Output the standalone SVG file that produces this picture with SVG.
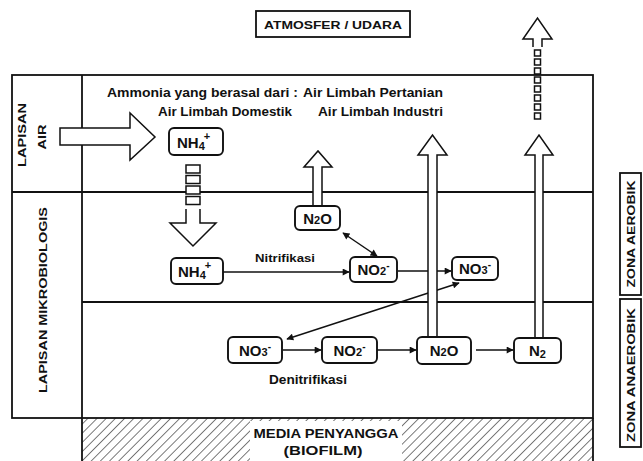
<svg xmlns="http://www.w3.org/2000/svg" width="643" height="461" viewBox="0 0 643 461">
  <defs>
    <style>
      text { font-family: "Liberation Sans", Arial, sans-serif; font-weight: bold; fill: #111; }
      .frame { fill: none; stroke: #111; stroke-width: 1.8; }
      .box { fill: #fff; stroke: #111; stroke-width: 1.9; }
      .hollow { fill: #fff; stroke: #111; stroke-width: 1.5; stroke-linejoin: miter; }
      .link { fill: none; stroke: #111; stroke-width: 1.4; }
      .lbl { font-size: 12.5px; }
      .chem { font-size: 15px; }
      .small { font-size: 10.5px; }
    </style>
    <marker id="ah" viewBox="0 0 10 10" refX="9" refY="5" markerWidth="8" markerHeight="7" markerUnits="userSpaceOnUse" orient="auto-start-reverse">
      <path d="M0,0 L10,5 L0,10 Z" fill="#111"/>
    </marker>
    <pattern id="hatch" patternUnits="userSpaceOnUse" width="6.5" height="6.5" patternTransform="rotate(45)">
      <line x1="0" y1="0" x2="0" y2="6.5" stroke="#222" stroke-width="1.2"/>
    </pattern>
  </defs>

  <rect width="643" height="461" fill="#fff"/>

  <!-- atmosphere label -->
  <g id="atmosfer">
    <rect x="256" y="11" width="154" height="26" class="frame"/>
    <text x="333" y="29" text-anchor="middle" font-size="11.5" textLength="138" lengthAdjust="spacingAndGlyphs">ATMOSFER / UDARA</text>
  </g>

  <!-- supporting medium (biofilm) -->
  <g id="media">
    <rect x="82" y="418" width="511" height="45" fill="url(#hatch)"/>
    <rect x="250" y="421" width="152" height="40" fill="#fff"/>
    <text x="326" y="438" text-anchor="middle" class="lbl" textLength="145" lengthAdjust="spacingAndGlyphs">MEDIA PENYANGGA</text>
    <text x="323" y="455" text-anchor="middle" class="lbl" textLength="79" lengthAdjust="spacingAndGlyphs">(BIOFILM)</text>
  </g>

  <!-- layer frame -->
  <g id="frame">
    <rect x="12" y="75" width="581" height="343" class="frame"/>
    <line x1="82" y1="75" x2="82" y2="461" class="frame"/>
    <line x1="593" y1="418" x2="593" y2="461" class="frame"/>
    <line x1="12" y1="192" x2="593" y2="192" class="frame"/>
    <line x1="82" y1="302" x2="593" y2="302" class="frame"/>
  </g>

  <!-- layer labels -->
  <g id="lapisan-air">
    <text transform="translate(26,135) rotate(-90)" text-anchor="middle" font-size="11.5" textLength="64" lengthAdjust="spacingAndGlyphs">LAPISAN</text>
    <text transform="translate(46,137) rotate(-90)" text-anchor="middle" font-size="11.5" textLength="25" lengthAdjust="spacingAndGlyphs">AIR</text>
  </g>
  <g id="lapisan-mikrobiologis">
    <text transform="translate(47,300) rotate(-90)" text-anchor="middle" font-size="11.5" textLength="186" lengthAdjust="spacingAndGlyphs">LAPISAN MIKROBIOLOGIS</text>
  </g>
  <g id="zona-aerobik">
    <rect x="620" y="173" width="21" height="122" class="frame" stroke-width="1.3"/>
    <text transform="translate(634.5,234) rotate(-90)" text-anchor="middle" class="small" textLength="107" lengthAdjust="spacingAndGlyphs">ZONA AEROBIK</text>
  </g>
  <g id="zona-anaerobik">
    <rect x="620" y="299" width="21" height="148" class="frame" stroke-width="1.3"/>
    <text transform="translate(634.5,375) rotate(-90)" text-anchor="middle" class="small" textLength="134" lengthAdjust="spacingAndGlyphs">ZONA ANAEROBIK</text>
  </g>

  <!-- ammonia sources -->
  <g id="sumber">
    <text x="107" y="97" class="lbl" textLength="191" lengthAdjust="spacingAndGlyphs">Ammonia yang berasal dari :</text>
    <text x="303" y="97" class="lbl" textLength="140" lengthAdjust="spacingAndGlyphs">Air Limbah Pertanian</text>
    <text x="158" y="116" class="lbl" textLength="134" lengthAdjust="spacingAndGlyphs">Air Limbah Domestik</text>
    <text x="318" y="116" class="lbl" textLength="125" lengthAdjust="spacingAndGlyphs">Air Limbah Industri</text>
  </g>

  <!-- connectors -->
  <g id="connectors">
    <!-- inflow into the water layer -->
    <path class="hollow" d="M60,128 L130,128 L130,113 L155,137 L130,160 L130,145 L60,145 Z"/>
    <!-- settling of NH4+ into the microbial layer -->
    <g class="hollow">
      <rect x="186" y="165" width="14" height="8"/>
      <rect x="186" y="175.5" width="14" height="8"/>
      <rect x="186" y="186" width="14" height="8"/>
      <rect x="186" y="196.5" width="14" height="8"/>
    </g>
    <path class="hollow" d="M186,209 L186,223 L170,223 L193,246 L216,223 L200,223 L200,209"/>

    <!-- nitrification chain -->
    <line x1="223" y1="272" x2="349" y2="272" class="link" marker-end="url(#ah)"/>
    <line x1="398" y1="271" x2="451" y2="271" class="link" marker-end="url(#ah)"/>
    <line x1="343" y1="233" x2="377" y2="256" class="link" marker-start="url(#ah)" marker-end="url(#ah)"/>
    <line x1="459" y1="283" x2="287" y2="339" class="link" marker-start="url(#ah)" marker-end="url(#ah)"/>

    <!-- denitrification chain -->
    <line x1="283" y1="350" x2="321" y2="350" class="link" marker-end="url(#ah)"/>
    <line x1="377" y1="350" x2="416" y2="350" class="link" marker-end="url(#ah)"/>
    <line x1="476" y1="350" x2="513" y2="350" class="link" marker-end="url(#ah)"/>

    <!-- gas release -->
    <path class="hollow" d="M313,206 L313,167 L304,167 L318,151 L332,167 L322,167 L322,206"/>
    <path class="hollow" d="M428,337 L428,155 L418,155 L432.5,135 L447,155 L437,155 L437,337"/>
    <path class="hollow" d="M535,338 L535,155 L525,155 L539,135 L553,155 L543,155 L543,338"/>

    <!-- N2 escaping to the atmosphere -->
    <path class="hollow" d="M533,47 L533,39 L523,39 L537.5,18 L552,39 L542,39 L542,47"/>
    <g class="hollow" stroke-width="1.2">
      <rect x="534.5" y="50" width="6" height="6"/>
      <rect x="534.5" y="59" width="6" height="6"/>
      <rect x="534.5" y="68" width="6" height="6"/>
      <rect x="534.5" y="77" width="6" height="6"/>
      <rect x="534.5" y="86" width="6" height="6"/>
      <rect x="534.5" y="95" width="6" height="6"/>
      <rect x="534.5" y="104" width="6" height="6"/>
      <rect x="534.5" y="113" width="6" height="6"/>
    </g>

    <text x="285" y="262" text-anchor="middle" font-size="11" textLength="60" lengthAdjust="spacingAndGlyphs">Nitrifikasi</text>
    <text x="308" y="384" text-anchor="middle" font-size="12" textLength="78" lengthAdjust="spacingAndGlyphs">Denitrifikasi</text>
  </g>

  <!-- nodes -->
  <g id="nh4-air">
    <rect x="169" y="128" width="54" height="27" rx="5" class="box"/>
    <text x="177" y="148" class="chem">NH<tspan font-size="11" dy="2">4</tspan><tspan font-size="11" dx="-1" dy="-10">+</tspan></text>
  </g>
  <g id="nh4-bio">
    <rect x="171" y="258" width="52" height="26" rx="5" class="box"/>
    <text x="178" y="277" class="chem">NH<tspan font-size="11" dy="2">4</tspan><tspan font-size="11" dx="-1" dy="-10">+</tspan></text>
  </g>
  <g id="n2o-aerob">
    <rect x="295" y="206" width="45" height="24" rx="5" class="box"/>
    <text x="317.5" y="224" text-anchor="middle" class="chem">N<tspan font-size="11">2</tspan>O</text>
  </g>
  <g id="no2-aerob">
    <rect x="350" y="257" width="47" height="25" rx="5" class="box"/>
    <text x="373.5" y="275" text-anchor="middle" class="chem">NO<tspan font-size="11">2</tspan><tspan font-size="10" dy="-6">-</tspan></text>
  </g>
  <g id="no3-aerob">
    <rect x="452" y="257" width="46" height="23" rx="5" class="box"/>
    <text x="475" y="274" text-anchor="middle" class="chem">NO<tspan font-size="11">3</tspan><tspan font-size="10" dy="-6">-</tspan></text>
  </g>
  <g id="no3-anaerob">
    <rect x="228" y="337" width="54" height="26" rx="5" class="box"/>
    <text x="255" y="356" text-anchor="middle" class="chem">NO<tspan font-size="11">3</tspan><tspan font-size="10" dy="-6">-</tspan></text>
  </g>
  <g id="no2-anaerob">
    <rect x="322" y="337" width="55" height="26" rx="5" class="box"/>
    <text x="349.5" y="356" text-anchor="middle" class="chem">NO<tspan font-size="11">2</tspan><tspan font-size="10" dy="-6">-</tspan></text>
  </g>
  <g id="n2o-anaerob">
    <rect x="417" y="337" width="54" height="27" rx="5" class="box"/>
    <text x="444" y="356" text-anchor="middle" class="chem">N<tspan font-size="11">2</tspan>O</text>
  </g>
  <g id="n2-anaerob">
    <rect x="514" y="338" width="47" height="25" rx="5" class="box"/>
    <text x="537.5" y="356" text-anchor="middle" class="chem">N<tspan font-size="11" dy="2">2</tspan></text>
  </g>
</svg>
